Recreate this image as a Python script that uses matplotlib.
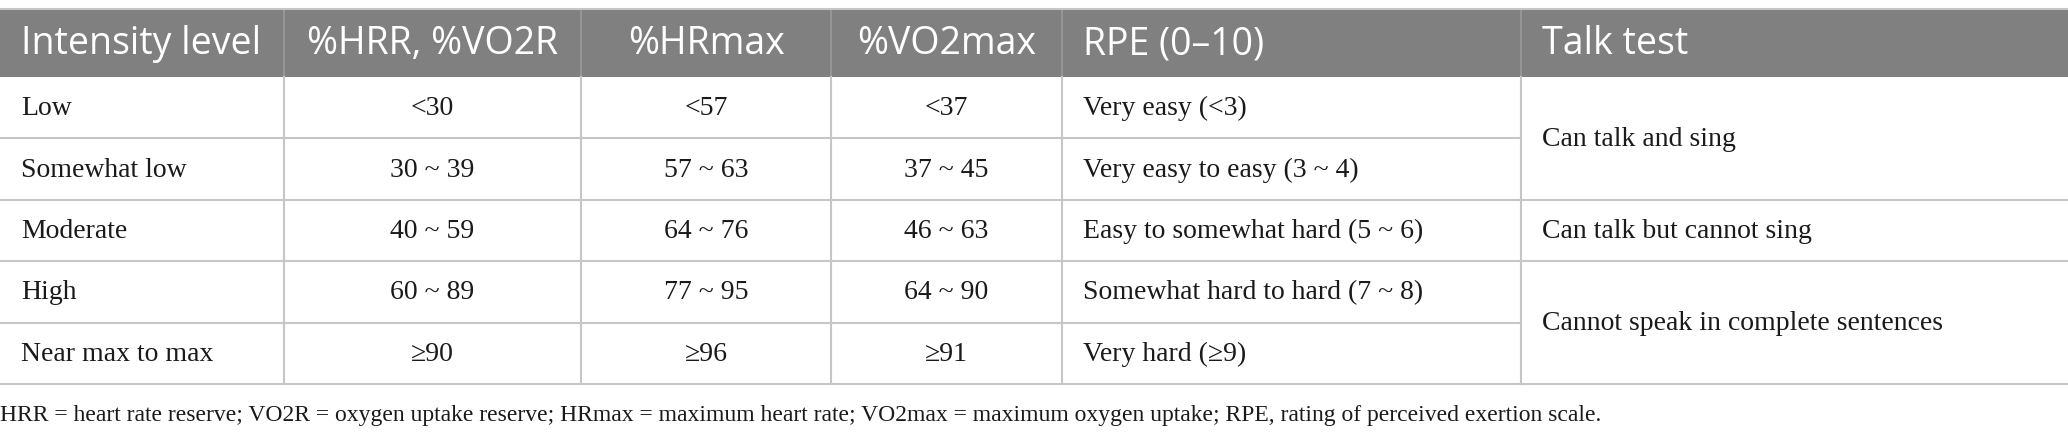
import matplotlib
matplotlib.use("Agg")
import matplotlib.pyplot as plt
from matplotlib.patches import Rectangle

# ---- data ----
headers = ["Intensity level", "%HRR, %VO2R", "%HRmax", "%VO2max", "RPE (0–10)", "Talk test"]
levels = ["Low", "Somewhat low", "Moderate", "High", "Near max to max"]
hrr_vo2r = ["<30", "30 ~ 39", "40 ~ 59", "60 ~ 89", "≥90"]
hrmax = ["<57", "57 ~ 63", "64 ~ 76", "77 ~ 95", "≥96"]
vo2max = ["<37", "37 ~ 45", "46 ~ 63", "64 ~ 90", "≥91"]
rpe = ["Very easy (<3)", "Very easy to easy (3 ~ 4)", "Easy to somewhat hard (5 ~ 6)",
       "Somewhat hard to hard (7 ~ 8)", "Very hard (≥9)"]
talk_text = ["Can talk and sing", "Can talk but cannot sing", "Cannot speak in complete sentences"]
talk_start = [0, 2, 3]
talk_span = [2, 1, 2]
footnote = ("HRR = heart rate reserve; VO2R = oxygen uptake reserve; HRmax = maximum heart rate; "
            "VO2max = maximum oxygen uptake; RPE, rating of perceived exertion scale.")

# ---- layout (pixels) ----
W, H = 2068, 441
col_x = [0, 284, 581, 831, 1062, 1521, 2068]
head_top, head_bot = 9, 77
row_h = (384 - 77) / 5
pad = 21
header_align = ["left", "center", "center", "center", "left", "left"]
body_align = ["left", "center", "center", "center", "left", "left"]

header_bg = "#7f807f"
line_c = "#c6c6c6"
body_font = "Liberation Serif"
head_font = "Open Sans"
body_fs = 20
head_fs = 27

fig = plt.figure(figsize=(W / 100, H / 100), dpi=100)
ax = fig.add_axes([0, 0, 1, 1])
ax.set_xlim(0, W)
ax.set_ylim(H, 0)
ax.axis("off")

# header background
ax.add_patch(Rectangle((0, head_top), W, head_bot - head_top, facecolor=header_bg,
                       edgecolor="none", zorder=1))
ax.plot([0, W], [head_top, head_top], color=line_c, lw=1.5, zorder=3)
for x in col_x[1:-1]:
    ax.plot([x, x], [head_top, head_bot], color="#9a9b9a", lw=1.2, zorder=2)

def tx(ci, align):
    if align == "center":
        return (col_x[ci] + col_x[ci + 1]) / 2
    return col_x[ci] + pad

for ci, h in enumerate(headers):
    ax.text(tx(ci, header_align[ci]), (head_top + head_bot) / 2 + 1, h,
            ha=header_align[ci], va="center", color="white", fontsize=head_fs,
            family=[head_font, "DejaVu Sans"], zorder=4)

# body
cols = [levels, hrr_vo2r, hrmax, vo2max, rpe]
for r in range(5):
    y0 = head_bot + r * row_h
    yc = y0 + row_h / 2
    for ci, col in enumerate(cols):
        ax.text(tx(ci, body_align[ci]), yc + 1, col[r], ha=body_align[ci], va="center",
                fontsize=body_fs, family=[body_font, "DejaVu Serif"], color="#1a1a1a", zorder=4)
    ax.plot([0, col_x[5]], [y0 + row_h, y0 + row_h], color=line_c, lw=1.5, zorder=3)

for t, s, n in zip(talk_text, talk_start, talk_span):
    y0 = head_bot + s * row_h
    y1 = y0 + n * row_h
    ax.text(col_x[5] + pad, (y0 + y1) / 2 + 1, t, ha="left", va="center",
            fontsize=body_fs, family=[body_font, "DejaVu Serif"], color="#1a1a1a", zorder=4)
    ax.plot([col_x[5], W], [y1, y1], color=line_c, lw=1.5, zorder=3)

for x in col_x[1:-1]:
    ax.plot([x, x], [head_bot, 384], color=line_c, lw=1.5, zorder=3)

ax.text(0, 415, footnote, ha="left", va="center", fontsize=17,
        family=[body_font, "DejaVu Serif"], color="#1a1a1a")

fig.savefig("out.png", dpi=100, facecolor="white")
